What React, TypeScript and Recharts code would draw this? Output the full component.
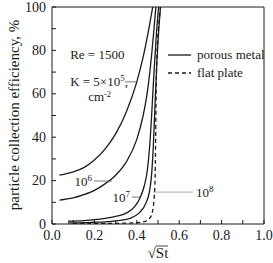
import React from "react";
import {
  LineChart,
  Line,
  XAxis,
  YAxis,
  ReferenceLine,
  Legend,
} from "recharts";

// collection efficiency (%) vs sqrt(St), Re = 1500, porous metal permeability K
const rootSt5e5 = [0.035, 0.1, 0.15, 0.2, 0.25, 0.3, 0.35, 0.4, 0.43, 0.455, 0.475];
const eff5e5 = [22.5, 24, 26, 29.5, 34.5, 41.5, 51.5, 65.5, 77, 89, 100];

const rootSt1e6 = [0.035, 0.1, 0.15, 0.2, 0.25, 0.3, 0.35, 0.4, 0.43, 0.45, 0.47, 0.482, 0.49];
const eff1e6 = [11, 12, 13.5, 15.5, 18.5, 22.5, 28.5, 39, 50, 61, 78, 91, 100];

const rootSt1e7 = [0.075, 0.15, 0.2, 0.25, 0.3, 0.35, 0.39, 0.415, 0.435, 0.45, 0.46, 0.47, 0.48, 0.492, 0.503];
const eff1e7 = [1.3, 1.6, 2, 2.6, 3.5, 5, 8, 12, 17.5, 25, 35, 50, 68, 87, 100];

const rootSt1e8 = [0.075, 0.15, 0.2, 0.25, 0.3, 0.37, 0.41, 0.44, 0.46, 0.47, 0.478, 0.486, 0.495, 0.504, 0.512];
const eff1e8 = [0.5, 0.6, 0.8, 1.0, 1.4, 2.7, 5, 9, 15, 23, 36, 55, 75, 90, 100];

const rootStFlat = [0.1, 0.2, 0.3, 0.4, 0.44, 0.46, 0.472, 0.48, 0.486, 0.489, 0.491, 0.495, 0.502, 0.512];
const effFlat = [0.2, 0.2, 0.3, 0.6, 1.2, 2.5, 5, 10, 20, 40, 60, 78, 90, 100];

const xTicks = [0, 0.1, 0.2, 0.3, 0.4, 0.5, 0.6, 0.7, 0.8, 0.9, 1.0];
const yTicks = [0, 10, 20, 30, 40, 50, 60, 70, 80, 90, 100];

const zip = (xs: number[], ys: number[]) => xs.map((x, i) => ({ x, y: ys[i] }));

const FONT = "'Liberation Serif', 'DejaVu Serif', serif";
const INK = "#1a1a1a";
const serif = { fontFamily: FONT };

const isMajorX = (v: number) => Math.round(v * 10) % 2 === 0;
const isMajorY = (v: number) => Math.round(v) % 20 === 0;

const BottomTick = ({ x, y, payload }: any) => {
  const v = payload.value;
  return (
    <g>
      <line x1={x} x2={x} y1={y} y2={y - 4} stroke={INK} />
      {isMajorX(v) && (
        <text x={x} y={y + 16} textAnchor="middle" fontSize={14} style={serif} fill={INK}>
          {v.toFixed(1)}
        </text>
      )}
    </g>
  );
};

const TopTick = ({ x, y }: any) => <line x1={x} x2={x} y1={y} y2={y + 4} stroke={INK} />;

const LeftTick = ({ x, y, payload }: any) => {
  const v = payload.value;
  return (
    <g>
      <line x1={x} x2={x + 4} y1={y} y2={y} stroke={INK} />
      {isMajorY(v) && (
        <text x={x - 6} y={y + 4.5} textAnchor="end" fontSize={14} style={serif} fill={INK}>
          {v}
        </text>
      )}
    </g>
  );
};

const RightTick = ({ x, y }: any) => <line x1={x} x2={x - 4} y1={y} y2={y} stroke={INK} />;

const box = (p: any) => {
  const vb = p.viewBox || {};
  const x = vb.x ?? Math.min(vb.x1, vb.x2);
  const y = vb.y ?? Math.min(vb.y1, vb.y2);
  const width = vb.width ?? Math.abs(vb.x2 - vb.x1);
  return { x, y, width };
};

const textProps = { fontSize: 13, style: serif, fill: INK };

const kLabel = (p: any) => {
  const { x, y } = box(p);
  return (
    <g>
      <text x={x - 55} y={y - 22.5} {...textProps}>Re = 1500</text>
      <text x={x - 55} y={y + 4.5} {...textProps}>
        K = 5×10<tspan dy={-5} fontSize={9}>5</tspan>
        <tspan dy={5}>,</tspan>
      </text>
      <text x={x - 37} y={y + 19.5} {...textProps}>
        cm<tspan dy={-4} fontSize={8.5}>-2</tspan>
      </text>
    </g>
  );
};

const powerLabel = (exp: string, side: "left" | "right") => (p: any) => {
  const { x, y, width } = box(p);
  const tx = side === "left" ? x - 2 : x + width + 3;
  return (
    <text x={tx} y={y + 4.5} textAnchor={side === "left" ? "end" : "start"} {...textProps}>
      10<tspan dy={-5} fontSize={9}>{exp}</tspan>
    </text>
  );
};

const legendContent = () => (
  <svg width={100} height={34} style={{ display: "block" }}>
    <line x1={3} x2={26} y1={9} y2={9} stroke={INK} strokeWidth={1.3} />
    <text x={32} y={13} {...textProps}>porous metal</text>
    <line x1={3} x2={26} y1={27} y2={27} stroke={INK} strokeWidth={1.3} strokeDasharray="4 3" />
    <text x={32} y={31} {...textProps}>flat plate</text>
  </svg>
);

const yTitle = () => (
  <text
    x={19}
    y={115}
    transform="rotate(-90 19 115)"
    textAnchor="middle"
    fontSize={15}
    style={serif}
    fill={INK}
  >
    particle collection efficiency, %
  </text>
);

const xTitle = () => (
  <g>
    <text x={158} y={258} textAnchor="middle" fontSize={15} style={serif} fill={INK}>
      √St
    </text>
    <line x1={156} x2={168} y1={246} y2={246} stroke={INK} strokeWidth={0.8} />
  </g>
);

const App = () => {
  const lineStyle = { stroke: INK, strokeWidth: 1.3, dot: false, isAnimationActive: false };
  return (
    <div style={{ position: "absolute", left: 0, top: 0, background: "#fff" }}>
      <LineChart width={273} height={263} margin={{ top: 7, right: 9, bottom: 0, left: 0 }}>
        <XAxis
          type="number"
          dataKey="x"
          domain={[0, 1]}
          ticks={xTicks}
          interval={0}
          height={39}
          tickSize={0}
          tickMargin={0}
          tickLine={false}
          tick={<BottomTick />}
          axisLine={{ stroke: INK }}
          label={{ content: xTitle }}
        />
        <XAxis
          xAxisId="top"
          orientation="top"
          type="number"
          dataKey="x"
          domain={[0, 1]}
          ticks={xTicks}
          interval={0}
          mirror
          tickSize={0}
          tickMargin={0}
          tickLine={false}
          tick={<TopTick />}
          axisLine={{ stroke: INK }}
        />
        <YAxis
          type="number"
          domain={[0, 100]}
          ticks={yTicks}
          interval={0}
          width={52}
          tickSize={0}
          tickMargin={0}
          tickLine={false}
          tick={<LeftTick />}
          axisLine={{ stroke: INK }}
          allowDataOverflow
          label={{ content: yTitle }}
        />
        <YAxis
          yAxisId="right"
          orientation="right"
          type="number"
          domain={[0, 100]}
          ticks={yTicks}
          interval={0}
          mirror
          tickSize={0}
          tickMargin={0}
          tickLine={false}
          tick={<RightTick />}
          axisLine={{ stroke: INK }}
        />

        <Line data={zip(rootSt5e5, eff5e5)} dataKey="y" type="monotone" {...lineStyle} />
        <Line data={zip(rootSt1e6, eff1e6)} dataKey="y" type="monotone" {...lineStyle} />
        <Line data={zip(rootSt1e7, eff1e7)} dataKey="y" type="monotone" {...lineStyle} />
        <Line data={zip(rootSt1e8, eff1e8)} dataKey="y" type="monotone" {...lineStyle} />
        <Line
          data={zip(rootStFlat, effFlat)}
          dataKey="y"
          type="monotone"
          {...lineStyle}
          strokeDasharray="4 3"
        />

        <ReferenceLine
          segment={[{ x: 0.345, y: 65.5 }, { x: 0.4, y: 65.5 }]}
          stroke="#555"
          strokeWidth={0.8}
          label={kLabel}
        />
        <ReferenceLine
          segment={[{ x: 0.198, y: 19.8 }, { x: 0.283, y: 19.8 }]}
          stroke="#555"
          strokeWidth={0.8}
          label={powerLabel("6", "left")}
        />
        <ReferenceLine
          segment={[{ x: 0.377, y: 12.4 }, { x: 0.415, y: 12.4 }]}
          stroke="#555"
          strokeWidth={0.8}
          label={powerLabel("7", "left")}
        />
        <ReferenceLine
          segment={[{ x: 0.478, y: 14.7 }, { x: 0.665, y: 14.7 }]}
          stroke="#999"
          strokeWidth={0.8}
          label={powerLabel("8", "right")}
        />

        <Legend
          layout="vertical"
          align="center"
          verticalAlign="middle"
          content={legendContent}
          wrapperStyle={{ left: 165, top: 46, width: 100, right: "auto", bottom: "auto" }}
        />
      </LineChart>
    </div>
  );
};

export default App;
